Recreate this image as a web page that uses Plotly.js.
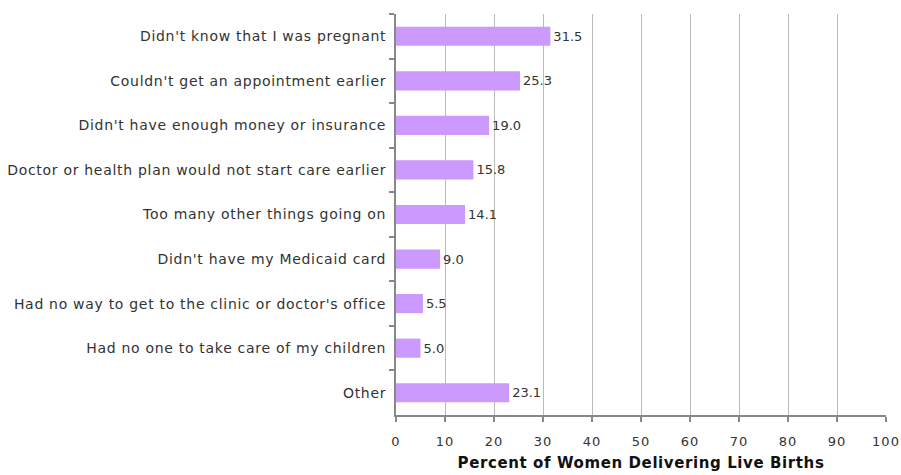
<!DOCTYPE html>
<html><head><meta charset="utf-8">
<script src="https://cdn.plot.ly/plotly-3.0.1.min.js"></script>
<style>
body{margin:0;background:#fff}#c{width:901px;height:475px}
.ytick text{letter-spacing:0.7px}
.xtick text{letter-spacing:1px}
.g-xtitle text{letter-spacing:0.6px}
</style>
</head><body><div id="c"></div>
<script>
const categories = [
  "Didn't know that I was pregnant",
  "Couldn't get an appointment earlier",
  "Didn't have enough money or insurance",
  "Doctor or health plan would not start care earlier",
  "Too many other things going on",
  "Didn't have my Medicaid card",
  "Had no way to get to the clinic or doctor's office",
  "Had no one to take care of my children",
  "Other"
];
const values = [31.5, 25.3, 19.0, 15.8, 14.1, 9.0, 5.5, 5.0, 23.1];
const xTicks = [0,10,20,30,40,50,60,70,80,90,100];

const font = "DejaVu Sans, sans-serif";
Plotly.newPlot('c', [{
  type: 'bar',
  orientation: 'h',
  y: categories,
  x: values,
  marker: {color: '#CC99FF'},
  text: values.map(v => v.toFixed(1)),
  textposition: 'outside',
  cliponaxis: false,
  textfont: {family: font, size: 13, color: '#333'},
  hoverinfo: 'none'
}], {
  width: 901, height: 475,
  margin: {l: 396, r: 15, t: 14, b: 60},
  paper_bgcolor: '#fff', plot_bgcolor: '#fff',
  bargap: 0.57,
  showlegend: false,
  font: {family: font, size: 13, color: '#333'},
  xaxis: {
    range: [0, 100], tickvals: xTicks, ticktext: xTicks.map(String),
    showgrid: true, gridcolor: '#BBBBBB', gridwidth: 1,
    zeroline: false, showline: true, linecolor: '#888', linewidth: 2,
    ticks: 'outside', ticklen: 5, tickcolor: '#888', tickwidth: 2,
    tickfont: {family: font, size: 13, color: '#333'},
    ticklabelstandoff: 8,
    title: {text: '<b>Percent of Women Delivering Live Births</b>', font: {family: font, size: 15, color: '#111'}, standoff: 10},
    fixedrange: true
  },
  yaxis: {
    autorange: 'reversed', type: 'category',
    showline: true, linecolor: '#888', linewidth: 2,
    ticks: 'outside', tickson: 'boundaries', ticklen: 5, tickcolor: '#888', tickwidth: 2,
    showgrid: false,
    tickfont: {family: font, size: 14, color: '#333'},
    ticklabelstandoff: 5,
    fixedrange: true
  }
}, {displayModeBar: false, staticPlot: true});
</script></body></html>
